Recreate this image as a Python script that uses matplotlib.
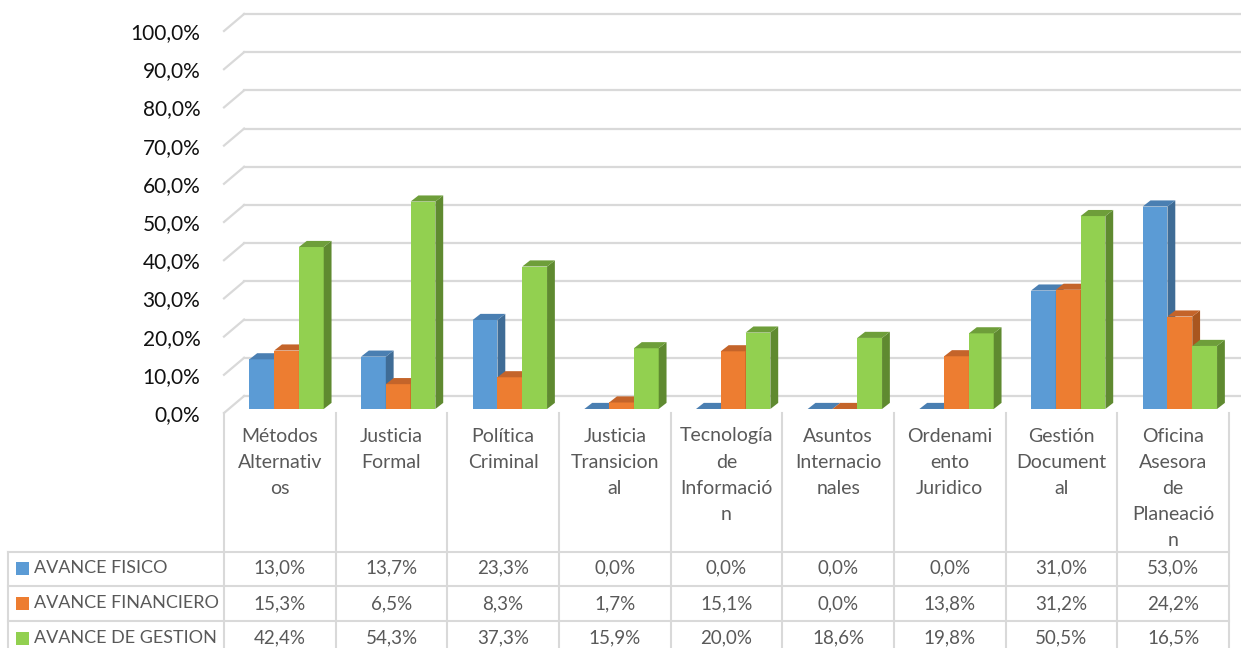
import matplotlib

matplotlib.use("Agg")
import matplotlib.pyplot as plt
from matplotlib.patches import Polygon, Rectangle

# datos (porcentajes)
categorias = [
    ["Métodos", "Alternativ", "os"],
    ["Justicia", "Formal"],
    ["Política", "Criminal"],
    ["Justicia", "Transicion", "al"],
    ["Tecnología", "de", "Informació", "n"],
    ["Asuntos", "Internacio", "nales"],
    ["Ordenami", "ento", "Juridico"],
    ["Gestión", "Document", "al"],
    ["Oficina", "Asesora", "de", "Planeació", "n"],
]
avance_fisico = [13.0, 13.7, 23.3, 0.0, 0.0, 0.0, 0.0, 31.0, 53.0]
avance_financiero = [15.3, 6.5, 8.3, 1.7, 15.1, 0.0, 13.8, 31.2, 24.2]
avance_gestion = [42.4, 54.3, 37.3, 15.9, 20.0, 18.6, 19.8, 50.5, 16.5]
series = ["AVANCE FISICO", "AVANCE FINANCIERO", "AVANCE DE GESTION"]
y_ticks = list(range(0, 101, 10))

# (frente, lado, tapa)
colores = [
    ("#5B9BD5", "#3F6C96", "#4A7FB2"),
    ("#ED7D31", "#A9561F", "#C4642A"),
    ("#92D050", "#5F8A30", "#6E9E3A"),
]

plt.rcParams["font.family"] = ["Lato", "DejaVu Sans"]
GRID = "#D9D9D9"
TXT = "#595959"

# profundidad "3D" en unidades de datos
BACK_DX, BACK_DY = 0.18, 4.45
BAR_DX, BAR_DY = 0.06, 1.05
SIDE_DX, SIDE_DY = 0.07, 1.6
W = 0.222

fig = plt.figure(figsize=(12.41, 6.48), dpi=100)
ax = fig.add_axes([224 / 1241, 235 / 648, 1005 / 1241, 382 / 648])
n = len(categorias)
ax.set_xlim(0, n)
ax.set_ylim(0, 100)
for s in ax.spines.values():
    s.set_visible(False)
ax.set_xticks([])
ax.set_yticks(y_ticks)
ax.set_yticklabels([f"{v:.1f}%".replace(".", ",") for v in y_ticks], fontsize=15, color="#111111")
ax.tick_params(axis="y", length=0, pad=17)

# pared del fondo
for v in y_ticks:
    ax.plot([0, BACK_DX], [v, v + BACK_DY], color=GRID, lw=1.6, clip_on=False, zorder=1)
    ax.plot([BACK_DX, n + BACK_DX], [v + BACK_DY] * 2, color=GRID, lw=1.6, clip_on=False, zorder=1)

valores = [avance_fisico, avance_financiero, avance_gestion]
for k, vals in enumerate(valores):
    front, side, top = colores[k]
    xs = [i + 0.5 + BAR_DX + (k - 1) * W for i in range(n)]
    z = 2 + k
    ax.bar(xs, vals, width=W, bottom=BAR_DY, color=front, zorder=z, clip_on=False)
    for x, h in zip(xs, vals):
        x0, x1 = x - W / 2, x + W / 2
        y0, y1 = BAR_DY, BAR_DY + h
        ax.add_patch(Polygon([(x1, y0), (x1 + SIDE_DX, y0 + SIDE_DY), (x1 + SIDE_DX, y1 + SIDE_DY), (x1, y1)],
                             fc=side, ec="none", zorder=z, clip_on=False))
        ax.add_patch(Polygon([(x0, y1), (x1, y1), (x1 + SIDE_DX, y1 + SIDE_DY), (x0 + SIDE_DX, y1 + SIDE_DY)],
                             fc=top, ec="none", zorder=z, clip_on=False))

# tabla de datos debajo (coordenadas y en pixeles desde arriba)
tab = fig.add_axes([224 / 1241, 0, 1005 / 1241, 235 / 648])
tab.set_xlim(0, n)
tab.set_ylim(235, 0)
tab.axis("off")
LEFT = -1.93
ROW_TOP = [139, 173, 208]
ROW_MID = [155, 190.5, 225]

for i in range(n + 1):
    tab.plot([i, i], [0, 260], color=GRID, lw=1.5, clip_on=False)
tab.plot([LEFT, LEFT], [ROW_TOP[0], 260], color=GRID, lw=1.5, clip_on=False)
for y in ROW_TOP:
    tab.plot([LEFT, n], [y, y], color=GRID, lw=1.5, clip_on=False)

for i, lineas in enumerate(categorias):
    for j, t in enumerate(lineas):
        tab.text(i + 0.5, 23 + 26 * j, t, ha="center", va="center", fontsize=14, color=TXT)

for k, vals in enumerate(valores):
    y = ROW_MID[k]
    tab.add_patch(Rectangle((LEFT + 0.07, y - 6.5), 0.115, 13, fc=colores[k][0], ec="none", clip_on=False))
    tab.text(LEFT + 0.225, y, series[k], ha="left", va="center", fontsize=13, color=TXT)
    for i, v in enumerate(vals):
        tab.text(i + 0.5, y, f"{v:.1f}%".replace(".", ","), ha="center", va="center", fontsize=13.5, color=TXT)

fig.savefig("out.png", dpi=100)
